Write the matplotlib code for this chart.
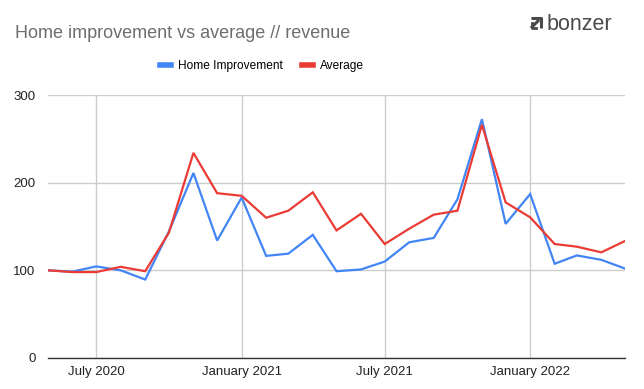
import matplotlib
matplotlib.use("Agg")
import matplotlib.pyplot as plt
from matplotlib.lines import Line2D
import datetime as dt

months = ["2020-05", "2020-06", "2020-07", "2020-08", "2020-09", "2020-10", "2020-11", "2020-12",
          "2021-01", "2021-02", "2021-03", "2021-04", "2021-05", "2021-06", "2021-07", "2021-08",
          "2021-09", "2021-10", "2021-11", "2021-12", "2022-01", "2022-02", "2022-03", "2022-04",
          "2022-05"]
home_improvement = [100, 98.5, 104.5, 100, 89.5, 144.5, 211, 134, 183, 116.5, 119, 140.5, 99,
                    101, 110, 132, 137, 181, 272.5, 153, 187, 107.5, 117, 112, 102]
average = [100, 98, 98, 104, 99, 143, 234, 188, 185, 160, 168, 189, 145.5,
           164.5, 130, 147.5, 163.5, 168, 266, 177.5, 160.5, 130, 127, 120.5, 133.5]
yticks = [0, 100, 200, 300]
xtick_labels = ["July 2020", "January 2021", "July 2021", "January 2022"]
xtick_dates = ["2020-07", "2021-01", "2021-07", "2022-01"]

def to_date(s):
    y, m = s.split("-")
    return dt.date(int(y), int(m), 1)

x = [to_date(m) for m in months]
xt = [to_date(m) for m in xtick_dates]

plt.rcParams['font.family'] = ['Liberation Sans', 'DejaVu Sans']

fig = plt.figure(figsize=(6.44, 3.89), dpi=100)
ax = fig.add_axes([48/644, 1-358/389, (625-48)/644, (358-95)/389])

blue = "#4285F4"
red = "#EA3B35"
ax.plot(x, home_improvement, color=blue, lw=1.6, zorder=3, solid_joinstyle='miter')
ax.plot(x, average, color=red, lw=1.6, zorder=4, solid_joinstyle='miter')

ax.set_xlim(x[0], x[-1])
ax.set_ylim(0, 300)
ax.set_yticks(yticks)
ax.set_yticklabels([str(v) for v in yticks])
ax.set_xticks(xt)
ax.set_xticklabels(xtick_labels)
ax.tick_params(axis='both', length=0, labelsize=9.5, colors="#222222")
ax.tick_params(axis='y', pad=9)
ax.tick_params(axis='x', pad=6)
ax.grid(True, color="#cccccc", lw=1.0, zorder=0)
for s in ["top", "right", "left"]:
    ax.spines[s].set_visible(False)
ax.spines["bottom"].set_color("#333333")
ax.spines["bottom"].set_linewidth(1.0)
ax.spines["bottom"].set_zorder(5)

fig.text(15/644, 1-33/389, "Home improvement vs average // revenue", fontsize=13,
         color="#6e6e6e", va="center", ha="left")

handles = [Line2D([0], [0], color=blue, lw=4), Line2D([0], [0], color=red, lw=4)]
fig.legend(handles, ["Home Improvement", "Average"], loc="center",
           bbox_to_anchor=(262/644, 1-66/389), ncol=2, frameon=False, fontsize=8.6,
           handlelength=0.9, handletextpad=0.6, columnspacing=1.6)

# bonzer logo
fig.text(547/644, 1-25/389, "bonzer", fontsize=15.5, color="#4a4a4a", va="center", ha="left")
lx0, ly0 = 531, 18
s = 10
def fx(px): return px/644
def fy(py): return 1-py/389
fig.add_artist(Line2D([fx(lx0), fx(lx0+s), fx(lx0+s)], [fy(ly0), fy(ly0), fy(ly0+s)],
                      color="#4a4a4a", lw=2.2, solid_capstyle='butt'))
fig.add_artist(Line2D([fx(lx0+7), fx(lx0+1)], [fy(ly0+3), fy(ly0+9)], color="#4a4a4a", lw=2.2))
fig.add_artist(Line2D([fx(lx0+1), fx(lx0+1), fx(lx0+5)], [fy(ly0+5), fy(ly0+9.5), fy(ly0+9.5)],
                      color="#4a4a4a", lw=2.0))

fig.savefig("out.png", dpi=100)
